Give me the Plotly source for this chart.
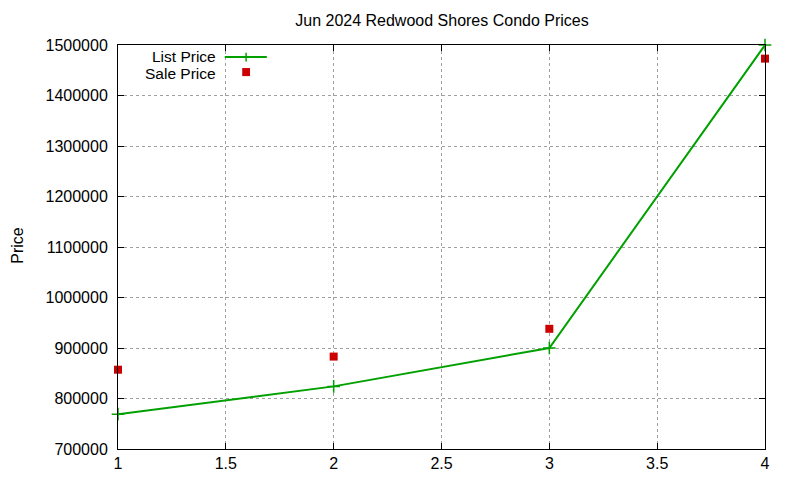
import plotly.graph_objects as go

# listing index 1..4
idx = [1, 2, 3, 4]
list_price = [769000, 824000, 900000, 1500000]
sale_price = [857000, 883000, 938000, 1473000]

x_ticks = [1, 1.5, 2, 2.5, 3, 3.5, 4]
y_ticks = [700000, 800000, 900000, 1000000, 1100000, 1200000, 1300000, 1400000, 1500000]

green = "#00a000"
red = "#cc0000"
font = "Liberation Sans, Arial, sans-serif"

fig = go.Figure()
fig.add_trace(go.Scatter(
    x=idx, y=list_price, mode="lines+markers", name="List Price",
    line=dict(color=green, width=2),
    marker=dict(symbol="cross-thin", size=9, line=dict(color=green, width=1.5)),
    cliponaxis=False,
))
fig.add_trace(go.Scatter(
    x=idx, y=sale_price, mode="markers", name="Sale Price",
    marker=dict(symbol="square", size=8, color=red),
    cliponaxis=False,
))

# gnuplot style key: text on the left, sample on the right
fig.add_annotation(xref="paper", yref="paper", x=0.154, y=0.9725, text="List Price",
                   showarrow=False, xanchor="right", yanchor="middle",
                   font=dict(size=15.5, color="black", family=font))
fig.add_annotation(xref="paper", yref="paper", x=0.154, y=0.9295, text="Sale Price",
                   showarrow=False, xanchor="right", yanchor="middle",
                   font=dict(size=15.5, color="black", family=font))
fig.add_shape(type="line", xref="paper", yref="paper", x0=0.165, x1=0.230, y0=0.970, y1=0.970,
              line=dict(color=green, width=2))
fig.add_shape(type="line", xref="paper", yref="paper", x0=0.198, x1=0.198, y0=0.959, y1=0.981,
              line=dict(color=green, width=1.5))
fig.add_shape(type="rect", xref="paper", yref="paper", x0=0.192, x1=0.204, y0=0.923, y1=0.943,
              line=dict(width=0), fillcolor=red)

# y axis label
fig.add_annotation(xref="paper", yref="paper", x=-0.155, y=0.505, text="Price", textangle=-90,
                   showarrow=False, xanchor="center", yanchor="middle",
                   font=dict(size=16, color="black", family=font))

axis_common = dict(
    showline=True, linecolor="black", linewidth=1, mirror="allticks",
    ticks="inside", ticklen=6, tickcolor="black", automargin=False,
    showgrid=True, gridcolor="#a0a0a0", griddash="dot", gridwidth=1,
    zeroline=False, tickfont=dict(size=16, color="black", family=font),
)

fig.update_xaxes(range=[1, 4], tickvals=x_ticks, ticktext=[str(v) for v in x_ticks], **axis_common)
fig.update_yaxes(range=[700000, 1500000], tickvals=y_ticks, ticktext=[str(v) for v in y_ticks],
                 ticklabelstandoff=6, **axis_common)

fig.update_layout(
    width=800, height=480,
    margin=dict(l=110, r=43, t=37, b=39),
    paper_bgcolor="white", plot_bgcolor="white",
    showlegend=False,
    title=dict(text="Jun 2024 Redwood Shores Condo Prices", x=0.5425, xanchor="center",
               y=0.975, yanchor="middle", font=dict(size=16, color="black", family=font)),
    font=dict(family=font, color="black"),
)

fig.write_html("out.html")
